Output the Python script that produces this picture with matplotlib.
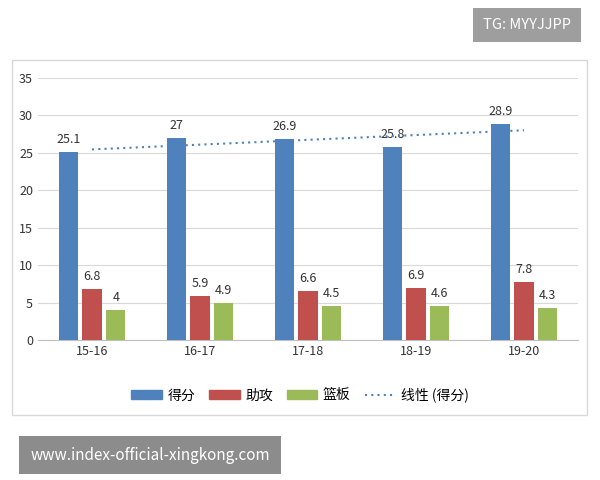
import matplotlib.pyplot as plt
import numpy as np
from matplotlib.lines import Line2D
from matplotlib.patches import Patch, Rectangle

plt.rcParams['font.family'] = ['Noto Sans CJK SC', 'DejaVu Sans']

seasons = ["15-16", "16-17", "17-18", "18-19", "19-20"]
points = [25.1, 27, 26.9, 25.8, 28.9]
assists = [6.8, 5.9, 6.6, 6.9, 7.8]
rebounds = [4, 4.9, 4.5, 4.6, 4.3]

colors = ["#4F81BD", "#C0504D", "#9BBB59"]

fig = plt.figure(figsize=(6, 4.8), dpi=100, facecolor="white")
# chart frame
fig.patches.append(Rectangle((12 / 600, 1 - 415 / 480), 575 / 600, 355 / 480,
                             transform=fig.transFigure, fill=False,
                             edgecolor="#d9d9d9", lw=1))
ax = fig.add_axes([38 / 600, 1 - 340 / 480, 540 / 600, 262 / 480])

x = np.arange(len(seasons))
w = 0.18
for off, vals, c in zip([-0.22, 0, 0.22], [points, assists, rebounds], colors):
    ax.bar(x + off, vals, w, color=c, zorder=3)
    for xi, v in zip(x + off, vals):
        ax.text(xi, v + 0.8, f"{v:g}", ha="center", va="bottom", fontsize=9, color="#333333")

# linear trendline of points
k, b = np.polyfit(x, points, 1)
ax.plot(x, k * x + b, ls=(0, (1, 2)), color="#4F81BD", lw=1.5, zorder=4)

ax.set_xlim(-0.5, 4.5)
ax.set_ylim(0, 35)
ax.set_yticks(range(0, 36, 5))
ax.set_xticks(x)
ax.set_xticklabels(seasons)
ax.tick_params(length=0, labelsize=9, colors="#333333")
ax.grid(axis="y", color="#d9d9d9", lw=0.8, zorder=0)
for s in ["top", "right", "left"]:
    ax.spines[s].set_visible(False)
ax.spines["bottom"].set_color("#bfbfbf")

handles = [Patch(color=colors[0]), Patch(color=colors[1]), Patch(color=colors[2]),
           Line2D([], [], ls=(0, (1, 2)), color="#4F81BD", lw=1.5)]
fig.legend(handles, ["得分", "助攻", "篮板", "线性 (得分)"], loc="center",
           bbox_to_anchor=(0.5, 1 - 395 / 480), ncol=4, frameon=False,
           fontsize=10, handlelength=2.2, columnspacing=1.0, handletextpad=0.4)

fig.text(527 / 600, 1 - 25 / 480, "TG: MYYJJPP", ha="center", va="center",
         color="white", fontsize=10.5,
         bbox=dict(boxstyle="square,pad=0.7", fc="#9e9e9e", ec="none"))
fig.text(150 / 600, 1 - 455 / 480, "www.index-official-xingkong.com", ha="center",
         va="center", color="white", fontsize=11,
         bbox=dict(boxstyle="square,pad=0.7", fc="#8c8c8c", ec="none"))

fig.savefig("out.png", dpi=100)
